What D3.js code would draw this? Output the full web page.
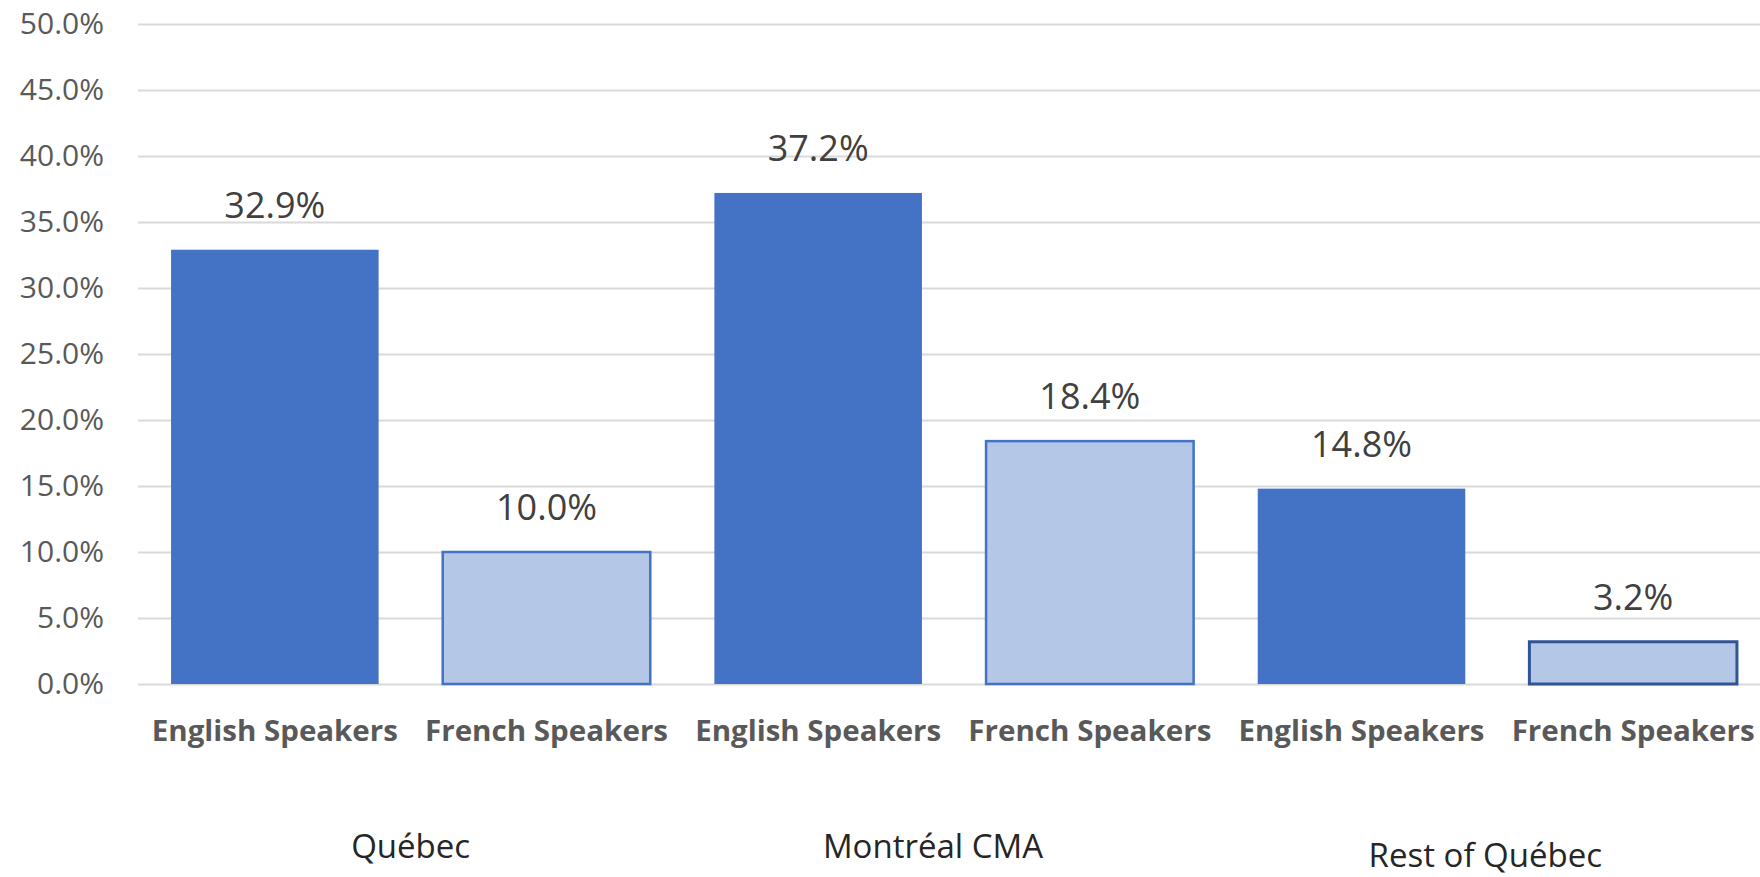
<!DOCTYPE html>
<html>
	<head>
		<meta charset="utf-8">
		<script type="text/javascript" src="https://d3js.org/d3.v7.min.js"></script>
		<style>
			body { margin: 0; background: #fff; }
			svg { display: block; }
		</style>
	</head>
	<body>
		<svg id="viz"></svg>
	</body>
	<script type="text/javascript">
		// data
		var groups = ["Québec", "Montréal CMA", "Rest of Québec"];
		var speakers = ["English Speakers", "French Speakers"];
		var english = [32.9, 37.2, 14.8];
		var french = [10.0, 18.4, 3.2];
		var yTicks = [0, 5, 10, 15, 20, 25, 30, 35, 40, 45, 50];

		var width = 1760,
			height = 877;

		// one entry per bar, in the order they sit on the axis
		var bars = [];
		groups.forEach(function (g, i) {
			bars.push({ group: g, lang: speakers[0], value: english[i], key: g + "|" + speakers[0] });
			bars.push({ group: g, lang: speakers[1], value: french[i], key: g + "|" + speakers[1] });
		});

		var svg = d3.select("#viz")
			.attr("width", width)
			.attr("height", height);

		var x = d3.scaleBand()
			.domain(bars.map(function (d) { return d.key; }))
			.range([139, 1769])
			.paddingInner(0.236)
			.paddingOuter(0.118);

		var y = d3.scaleLinear()
			.domain([0, 50])
			.range([684, 24]);

		//gridlines + tick labels
		var yAxis = svg.append("g")
			.attr("transform", "translate(138,0)")
			.call(d3.axisLeft(y)
				.tickValues(yTicks)
				.tickSize(-(width - 138))
				.tickPadding(34)
				.tickFormat(function (d) { return d.toFixed(1) + "%"; }));
		yAxis.select(".domain").remove();
		yAxis.selectAll(".tick line")
			.attr("stroke", "#d9d9d9")
			.attr("stroke-width", 2);
		yAxis.selectAll(".tick text")
			.attr("fill", "#595959")
			.style("font-family", "'Open Sans', 'Noto Sans', sans-serif")
			.style("font-size", "30px");

		// bars
		svg.append("g").selectAll("rect")
			.data(bars)
			.enter()
			.append("rect")
			.attr("x", function (d) { return x(d.key); })
			.attr("y", function (d) { return y(d.value); })
			.attr("width", x.bandwidth())
			.attr("height", function (d) { return y(0) - y(d.value); })
			.attr("fill", function (d) { return d.lang === speakers[0] ? "#4472c4" : "#b4c7e7"; })
			.attr("stroke", function (d, i) {
				if (d.lang === speakers[0]) return "none";
				return i === bars.length - 1 ? "#2f5597" : "#4472c4";
			})
			.attr("stroke-width", function (d, i) { return i === bars.length - 1 ? 3 : 2.5; });

		// value labels
		svg.append("g").selectAll("text")
			.data(bars)
			.enter()
			.append("text")
			.attr("x", function (d) { return x(d.key) + x.bandwidth() / 2; })
			.attr("y", function (d) { return y(d.value) - 32; })
			.attr("text-anchor", "middle")
			.attr("fill", "#404040")
			.style("font-family", "'Open Sans', 'Noto Sans', sans-serif")
			.style("font-size", "36px")
			.text(function (d) { return d.value.toFixed(1) + "%"; });

		// category labels (Calibri bold in the original), stretched to the same width
		svg.append("g").selectAll("text")
			.data(bars)
			.enter()
			.append("text")
			.attr("x", function (d) { return x(d.key) + x.bandwidth() / 2; })
			.attr("y", 741)
			.attr("text-anchor", "middle")
			.attr("fill", "#595959")
			.attr("textLength", function (d) { return d.lang === speakers[0] ? 246 : 243; })
			.attr("lengthAdjust", "spacingAndGlyphs")
			.style("font-family", "'Open Sans', 'Noto Sans', sans-serif")
			.style("font-weight", "bold")
			.style("font-size", "28px")
			.text(function (d) { return d.lang; });

		// group labels, placed by hand in the original so nudged a little
		var groupNudge = [[0, 0], [-21, 0], [-12, 9]];
		svg.append("g").selectAll("text")
			.data(groups)
			.enter()
			.append("text")
			.attr("x", function (d, i) {
				var a = x(d + "|" + speakers[0]), b = x(d + "|" + speakers[1]) + x.bandwidth();
				return (a + b) / 2 + groupNudge[i][0];
			})
			.attr("y", function (d, i) { return 858 + groupNudge[i][1]; })
			.attr("text-anchor", "middle")
			.attr("fill", "#262626")
			.style("font-family", "'Open Sans', 'Noto Sans', sans-serif")
			.style("font-size", "33px")
			.text(function (d) { return d; });
	</script>
</html>
